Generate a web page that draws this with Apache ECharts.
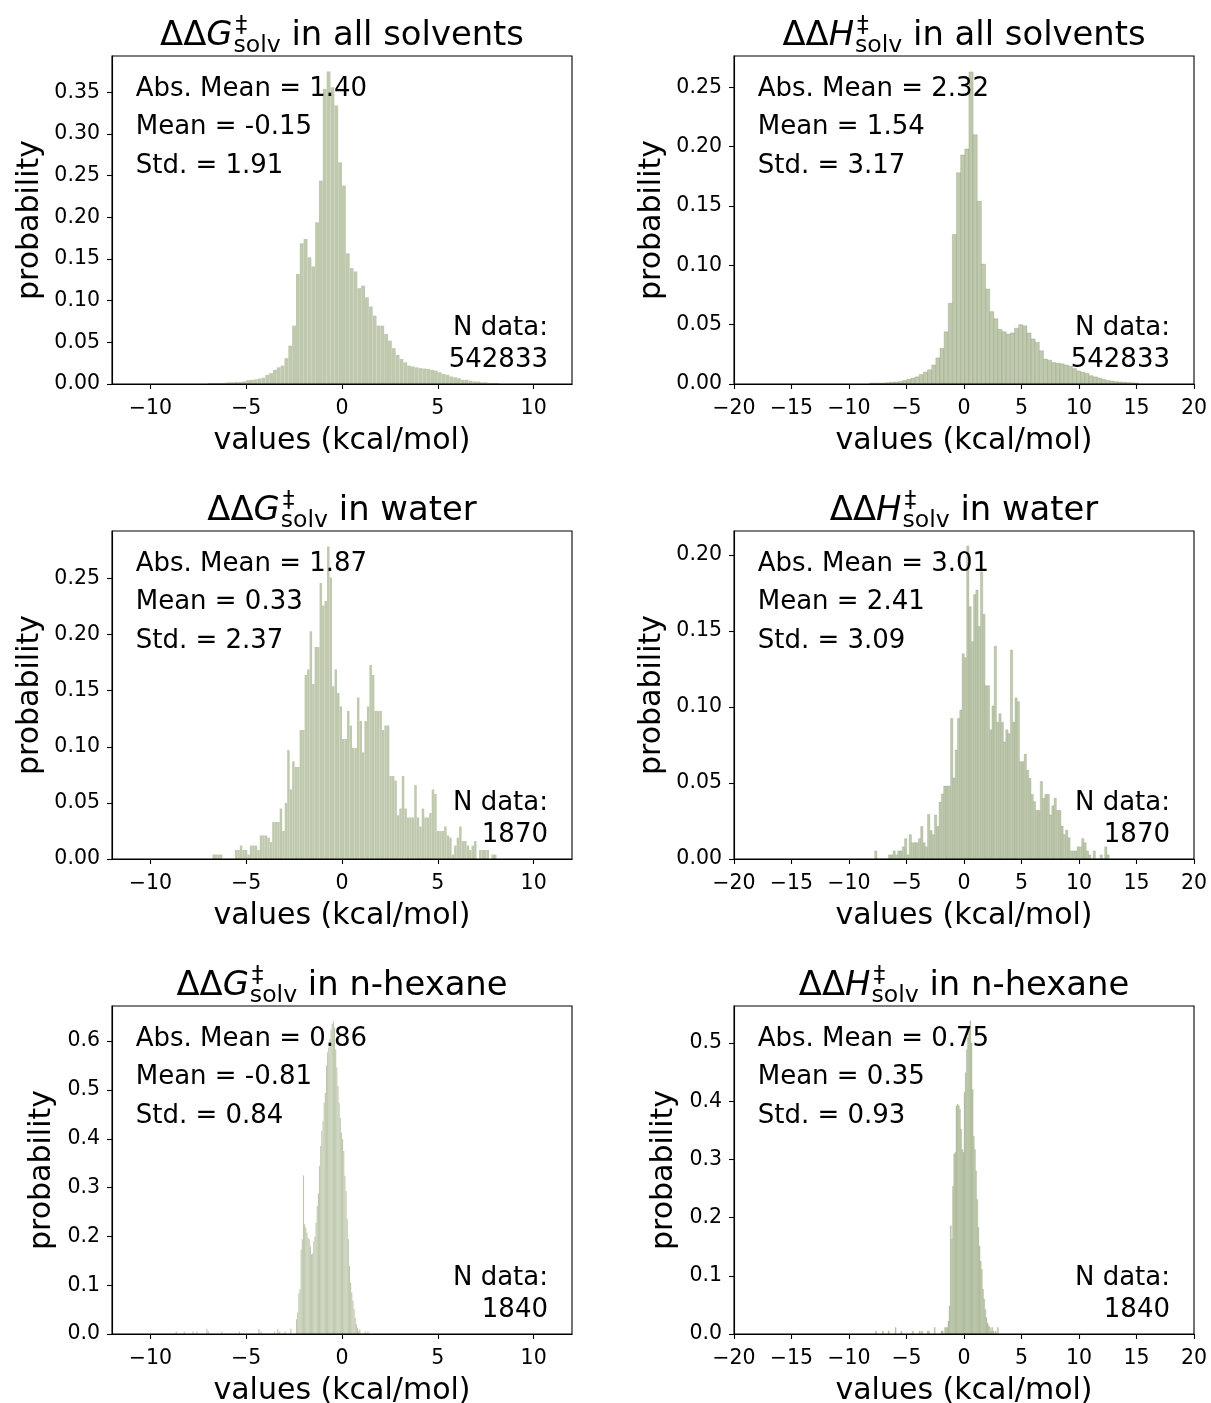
<!DOCTYPE html>
<html><head><meta charset="utf-8">
<script src="https://cdn.jsdelivr.net/npm/echarts@6/dist/echarts.min.js"></script>
<style>html,body{margin:0;padding:0;background:#fff}#c{width:1211px;height:1403px}</style>
</head><body><div id="c"></div><script>
// ---------------- DATA ----------------
// Panel 1: ddG in all solvents (bin left edge start, bin width, heights)
const gAllStart = -7.0, gAllWidth = 0.2;
const gAllHeights = [0.0012,0.0012,0.0012,0.0012,0.0015,0.002,0.002,0.0025,0.0025,0.003,
 0.0045,0.005,0.0055,0.0065,0.0075,0.011,0.013,0.017,0.020,0.022,
 0.031,0.046,0.070,0.132,0.169,0.174,0.152,0.141,0.194,0.244,
 0.354,0.375,0.356,0.334,0.266,0.238,0.157,0.139,0.135,0.115,
 0.118,0.104,0.093,0.082,0.070,0.070,0.060,0.052,0.043,0.035,
 0.030,0.026,0.022,0.021,0.020,0.019,0.0185,0.018,0.017,0.016,
 0.014,0.012,0.011,0.009,0.008,0.007,0.005,0.005,0.004,0.003,
 0.003,0.002,0.002,0.0012,0.0012,0.0012];
// Panel 2: ddH in all solvents
const hAllStart = -8.21, hAllWidth = 0.36;
const hAllHeights = [0.0008,0.0008,0.0008,0.0008,0.0012,0.0015,0.0017,0.002,0.003,0.004,
 0.005,0.006,0.008,0.010,0.012,0.016,0.022,0.030,0.044,0.068,
 0.126,0.178,0.193,0.198,0.263,0.210,0.154,0.101,0.080,0.061,
 0.055,0.046,0.044,0.042,0.043,0.047,0.050,0.049,0.043,0.038,
 0.035,0.028,0.021,0.020,0.018,0.0175,0.017,0.016,0.015,0.013,
 0.011,0.010,0.009,0.007,0.006,0.005,0.004,0.003,0.0025,0.002,
 0.0017,0.0015,0.0012,0.001,0.0008];
// Panel 3: ddG in water
const gWaterStart = -6.76, gWaterWidth = 0.13;
const gWaterHeights = [0.004,0.004,0.004,0.004,0,0,0,0,0,0.008,
 0.008,0.012,0.008,0.008,0.004,0.012,0.012,0.012,0.008,0.021,
 0.021,0.021,0.019,0.015,0.033,0.033,0.033,0.045,0.025,0.050,
 0.097,0.062,0.087,0.082,0.082,0.115,0.115,0.164,0.169,0.203,
 0.156,0.189,0.189,0.246,0.226,0.230,0.2785,0.251,0.154,0.169,
 0.148,0.136,0.107,0.107,0.132,0.119,0.099,0.099,0.144,0.123,
 0.095,0.123,0.136,0.173,0.164,0.132,0.132,0.132,0.115,0.119,
 0.119,0.074,0.074,0.070,0.039,0.045,0.074,0.045,0.037,0.037,
 0.037,0.066,0.037,0.029,0.045,0.037,0.037,0.041,0.062,0.058,
 0.025,0.025,0.025,0.029,0.021,0.019,0.004,0.012,0.019,0.029,
 0.016,0.016,0.012,0.008,0.012,0.016,0,0.008,0.008,0.008,
 0.008,0,0.004,0.004];
// Panel 4: ddH in water
const hWaterStart = -7.77, hWaterWidth = 0.2;
const hWaterHeights = [0.0053,0,0,0,0,0,0.0027,0.0027,0.0053,0.0027,
 0.0053,0.0053,0.008,0.0134,0.0027,0.016,0.0107,0.0107,0.0107,0.0134,
 0.0214,0.0107,0.008,0.0294,0.0187,0.016,0.029,0.0214,0.0374,0.0428,
 0.048,0.048,0.048,0.0925,0.0533,0.0717,0.0925,0.098,0.135,0.1325,
 0.206,0.166,0.143,0.174,0.177,0.153,0.189,0.161,0.114,0.114,
 0.085,0.1007,0.140,0.090,0.0956,0.090,0.077,0.085,0.0825,0.1375,
 0.090,0.106,0.1035,0.064,0.064,0.069,0.0585,0.053,0.0425,0.0377,
 0.032,0.032,0.051,0.040,0.0425,0.0425,0.029,0.035,0.040,0.032,
 0.032,0.0217,0.016,0.019,0.014,0.0053,0.0053,0.0053,0.008,0.008,
 0.0134,0.0107,0.0053,0.0027,0,0.0053,0,0,0.0027,0,
 0.008,0.0027];
// Panel 5: ddG in n-hexane (core + sparse tail bins)
const gHexStart = -2.40, gHexWidth = 0.06;
const gHexHeights = [0.030,0.044,0.083,0.092,0.173,0.194,0.325,0.225,0.218,0.208,
 0.197,0.194,0.180,0.163,0.165,0.190,0.200,0.228,0.262,0.288,
 0.344,0.385,0.416,0.436,0.474,0.494,0.550,0.577,0.587,0.604,
 0.624,0.635,0.641,0.628,0.583,0.546,0.508,0.474,0.443,0.413,
 0.399,0.375,0.324,0.293,0.235,0.194,0.139,0.105,0.085,0.068,
 0.051,0.033,0.020,0.013,0.006,0.0096];
const gHexTailX = [-8.68,-8.26,-7.8,-7.6,-7.08,-7.0,-6.3,-5.38,-4.36,-4.25,-3.55,-3.38,-3.28,-3.0,-2.7,1.18,1.32];
const gHexTailY = [0.005,0.005,0.005,0.005,0.011,0.005,0.005,0.005,0.010,0.005,0.005,0.010,0.005,0.005,0.011,0.005,0.005];
// Panel 6: ddH in n-hexane
const hHexStart = -1.5, hHexWidth = 0.1;
const hHexHeights = [0.011,0.022,0.048,0.186,0.163,0.254,0.309,0.312,0.392,0.395,
 0.392,0.386,0.352,0.317,0.312,0.415,0.449,0.489,0.509,0.529,
 0.538,0.500,0.420,0.340,0.317,0.280,0.231,0.183,0.151,0.125,
 0.111,0.077,0.060,0.042,0.028,0.019,0.014,0.011,0.005,0.011,
 0.005];
const hHexTailX = [-7.7,-7.1,-6.6,-6.0,-5.5,-4.5,-3.9,-3.7,-3.2,-3.1,-2.6,-2.0,-1.9,-1.7,-1.6,2.7,2.9];
const hHexTailY = [0.005,0.005,0.005,0.011,0.005,0.005,0.005,0.005,0.005,0.005,0.011,0.005,0.005,0.011,0.011,0.005,0.011];

// Texts
const titleLetters = ['G','H','G','H','G','H'];
const titleRest = ['in all solvents','in all solvents','in water','in water','in n-hexane','in n-hexane'];
const absMeans = ['1.40','2.32','1.87','3.01','0.86','0.75'];
const means = ['-0.15','1.54','0.33','2.41','-0.81','0.35'];
const stds = ['1.91','3.17','2.37','3.09','0.84','0.93'];
const nData = ['542833','542833','1870','1870','1840','1840'];
// Axes
const yMax = [0.3935,0.2764,0.2924,0.2158,0.672,0.5636];
const yTicks = [
 [0,0.05,0.10,0.15,0.20,0.25,0.30,0.35],
 [0,0.05,0.10,0.15,0.20,0.25],
 [0,0.05,0.10,0.15,0.20,0.25],
 [0,0.05,0.10,0.15,0.20],
 [0,0.1,0.2,0.3,0.4,0.5,0.6],
 [0,0.1,0.2,0.3,0.4,0.5]];
const yDecimals = [2,2,2,2,1,1];
const xTicksLeft = [-10,-5,0,5,10];

// ---------------- LAYOUT ----------------
const PW = 460, PH = 328;
const pos = [[112,56],[734,56],[112,531],[734,531],[112,1006],[734,1006]];
const FONT = '"DejaVu Sans"';
const FILL = '#bfc9ae';

function bins(start, w, hs, tx, ty) {
  const out = hs.map((h, i) => [start + i * w, start + (i + 1) * w, h]);
  if (tx) tx.forEach((x, i) => out.push([x, x + w, ty[i]]));
  return out;
}
const panelBins = [
  bins(gAllStart, gAllWidth, gAllHeights),
  bins(hAllStart, hAllWidth, hAllHeights),
  bins(gWaterStart, gWaterWidth, gWaterHeights),
  bins(hWaterStart, hWaterWidth, hWaterHeights),
  bins(gHexStart, gHexWidth, gHexHeights, gHexTailX, gHexTailY),
  bins(hHexStart, hHexWidth, hHexHeights, hHexTailX, hHexTailY)
];
const strokes = [null, 'rgba(135,152,112,0.55)', null, 'rgba(135,152,112,0.45)', null, 'rgba(135,152,112,0.35)'];

const ctx = document.createElement('canvas').getContext('2d');
function tw(t, font) { ctx.font = font; return ctx.measureText(t).width; }
const MID = 0.26; // em-middle offset above baseline

const grids = [], xAxes = [], yAxes = [], series = [], graphics = [];
const fmtX = v => (v < 0 ? '\u2212' + Math.abs(v) : String(v));
const TF = 20.5;

for (let p = 0; p < 6; p++) {
  const [L, T] = pos[p];
  const left = p % 2 === 0;
  grids.push({left: L, top: T, width: PW, height: PH});
  const xa = {type: 'value', gridIndex: p, min: left ? -12 : -20, max: left ? 12 : 20,
    axisLine: {show: true, onZero: false, lineStyle: {color: '#000', width: 1.1}},
    axisTick: {show: true, length: 5, lineStyle: {color: '#000', width: 1.1}},
    axisLabel: {color: '#000', fontFamily: FONT, fontSize: TF, margin: 14, formatter: fmtX},
    splitLine: {show: false}};
  if (left) { xa.axisTick.customValues = xTicksLeft; xa.axisLabel.customValues = xTicksLeft; }
  else { xa.interval = 5; }
  xAxes.push(xa);
  const dec = yDecimals[p];
  yAxes.push({type: 'value', gridIndex: p, min: 0, max: yMax[p],
    axisLine: {show: true, onZero: false, lineStyle: {color: '#000', width: 1.1}},
    axisTick: {show: true, length: 5, customValues: yTicks[p], lineStyle: {color: '#000', width: 1.1}},
    axisLabel: {color: '#000', fontFamily: FONT, fontSize: TF, margin: 12, customValues: yTicks[p],
      padding: [4, 0, 0, 0], formatter: v => v.toFixed(dec)},
    splitLine: {show: false}});
  const st = strokes[p];
  series.push({type: 'custom', xAxisIndex: p, yAxisIndex: p, data: panelBins[p], clip: true, silent: true,
    renderItem: (params, api) => {
      const a = api.coord([api.value(0), api.value(2)]);
      const b = api.coord([api.value(1), 0]);
      return {type: 'rect', shape: {x: a[0], y: a[1], width: b[0] - a[0], height: b[1] - a[1]},
        style: st ? {fill: FILL, stroke: st, lineWidth: 0.6} : {fill: FILL}};
    }});
  // border
  graphics.push({type: 'rect', z: 100, shape: {x: L, y: T, width: PW, height: PH},
    style: {fill: null, stroke: '#000', lineWidth: 1.1}, silent: true});
  // annotations
  const AF = 26;
  const txt = (s, x, base, align) => graphics.push({type: 'text', z: 50, x: x, y: base - MID * AF,
    style: {text: s, fontFamily: FONT, fontSize: AF, fill: '#000', align: align, verticalAlign: 'middle'}});
  txt('Abs. Mean = ' + absMeans[p], L + 23.7, T + 39.7, 'left');
  txt('Mean = ' + means[p], L + 23.7, T + 78.5, 'left');
  txt('Std. = ' + stds[p], L + 23.7, T + 117.3, 'left');
  txt('N data:', L + PW - 24, T + PH - 49, 'right');
  txt(nData[p], L + PW - 24, T + PH - 16.7, 'right');
  // x label
  const LF = 30;
  graphics.push({type: 'text', x: L + PW / 2, y: T + PH + 57,
    style: {text: 'values (kcal/mol)', fontFamily: FONT, fontSize: LF, fill: '#000', align: 'center', verticalAlign: 'middle'}});
  // y label
  const yl = (p >= 4) ? 12.4 : 0;
  graphics.push({type: 'text', x: L - 82 + yl, y: T + PH / 2, rotation: Math.PI / 2,
    style: {text: 'probability', fontFamily: FONT, fontSize: LF, fill: '#000', align: 'center', verticalAlign: 'middle'}});
  // title
  const F = 33.8, S = 23.6;
  const fN = F + 'px ' + FONT, fI = 'italic ' + F + 'px ' + FONT, fS = S + 'px ' + FONT;
  const wDD = tw('\u0394\u0394', fN), wL = tw(titleLetters[p], fI);
  const wSup = tw('\u2021', fS), wSub = tw('solv', fS), wSp = tw(' ', fN);
  const wRest = tw(titleRest[p], fN);
  const scriptW = Math.max(wSup + 3, wSub + 1);
  const total = wDD + wL + scriptW + wSp + wRest;
  const base = T - 11;
  let x = L + PW / 2 - total / 2;
  const piece = (s, x0, b, font, size, style) => graphics.push({type: 'text', x: x0, y: b - MID * size,
    style: {text: s, fontFamily: FONT, fontSize: size, fontStyle: style || 'normal', fill: '#000', align: 'left', verticalAlign: 'middle'}});
  piece('\u0394\u0394', x, base, fN, F); x += wDD;
  piece(titleLetters[p], x, base, fI, F, 'italic'); x += wL;
  piece('\u2021', x + 3, base - 13, fS, S);
  piece('solv', x + 1, base + 7, fS, S);
  x += scriptW + wSp;
  piece(titleRest[p], x, base, fN, F);
}

const chart = echarts.init(document.getElementById('c'), null, {renderer: 'canvas'});
chart.setOption({animation: false, backgroundColor: '#fff', grid: grids, xAxis: xAxes, yAxis: yAxes,
  series: series, graphic: {elements: graphics}});
</script></body></html>
